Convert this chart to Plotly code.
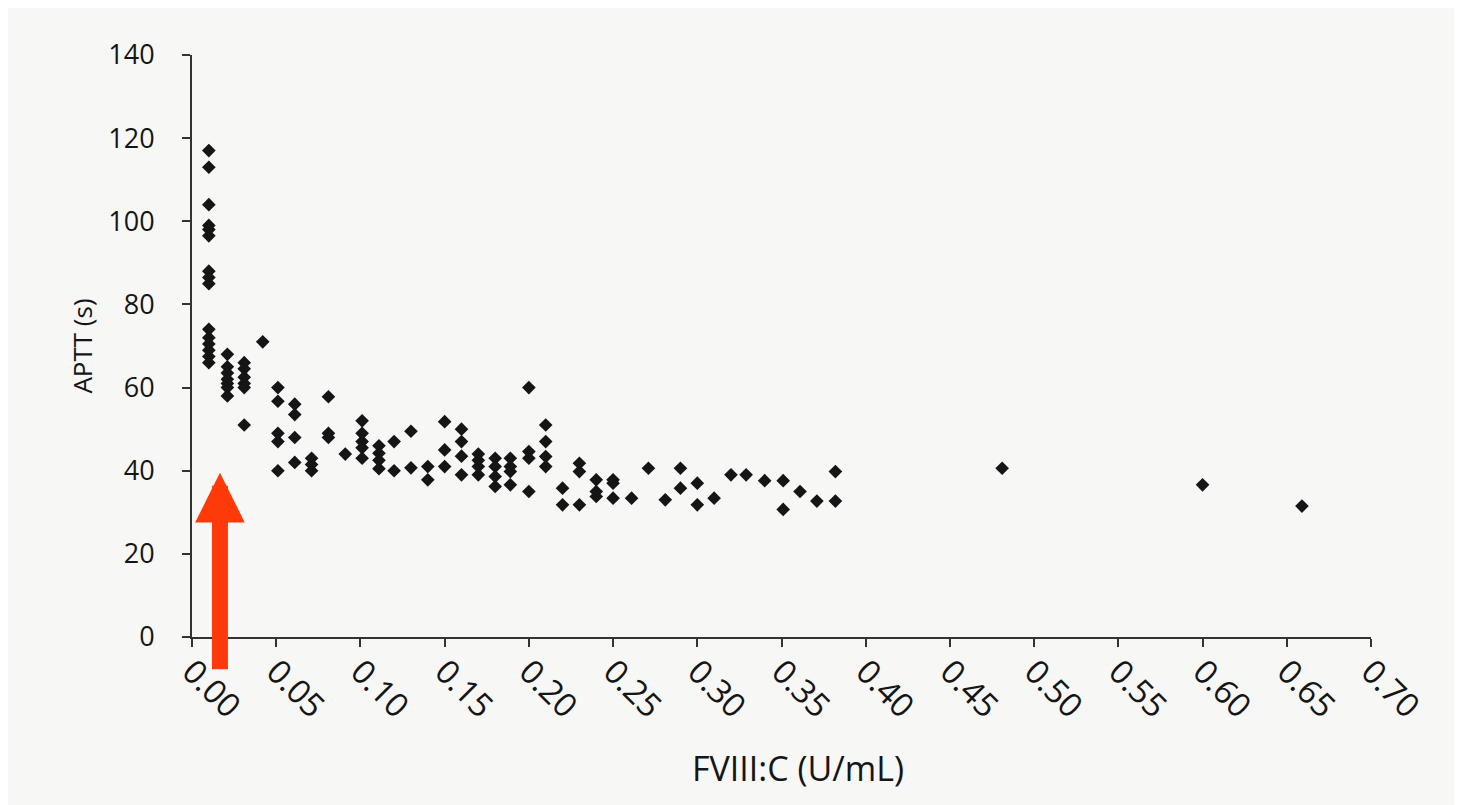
import plotly.graph_objects as go

# FVIII:C (U/mL) values, grouped by column, with APTT (s) values
fviii = (
    [0.010] * 15 + [0.021] * 7 + [0.031] * 6 + [0.042] * 1 + [0.051] * 5 +
    [0.061] * 4 + [0.071] * 3 + [0.081] * 3 + [0.091] * 1 + [0.101] * 5 +
    [0.111] * 4 + [0.120] * 2 + [0.130] * 2 + [0.140] * 2 + [0.150] * 3 +
    [0.160] * 4 + [0.170] * 4 + [0.180] * 4 + [0.189] * 4 + [0.200] * 4 +
    [0.210] * 4 + [0.220] * 2 + [0.230] * 3 + [0.240] * 3 + [0.250] * 3 +
    [0.261] * 1 + [0.271] * 1 + [0.281] * 1 + [0.290] * 2 + [0.300] * 2 +
    [0.310] * 1 + [0.320] * 1 + [0.329] * 1 + [0.340] * 1 + [0.351] * 2 +
    [0.361] * 1 + [0.371] * 1 + [0.382] * 2 + [0.481] * 1 + [0.600] * 1 +
    [0.659] * 1
)
aptt = [
    117, 113, 104, 99, 98, 96.5, 88, 86.5, 85, 74, 72, 70.5, 69, 67.5, 66,
    68, 65, 63.5, 62, 61, 60, 58,
    66, 64.5, 62.5, 61, 60, 51,
    71,
    60, 56.7, 49, 47, 40,
    56, 53.5, 48, 42,
    43, 41.5, 40,
    57.8, 49, 48,
    44,
    52, 49, 47, 45.5, 43,
    46, 44.2, 42.5, 40.5,
    47, 40,
    49.5, 40.7,
    41, 37.8,
    51.8, 45, 41,
    50, 47, 43.5, 39,
    44, 42.5, 41, 39,
    43, 41, 38.6, 36.2,
    43, 41, 39.8, 36.6,
    60, 44.6, 43, 35,
    51, 47, 43.4, 41,
    35.8, 31.8,
    41.8, 39.8, 31.8,
    37.8, 35, 33.8,
    37.8, 37, 33.4,
    33.4,
    40.6,
    33,
    40.6, 35.8,
    37, 31.8,
    33.4,
    39,
    39,
    37.6,
    37.6, 30.7,
    35,
    32.7,
    39.8, 32.7,
    40.6,
    36.6,
    31.5,
]

x_ticks = [0.00, 0.05, 0.10, 0.15, 0.20, 0.25, 0.30, 0.35, 0.40, 0.45, 0.50, 0.55, 0.60, 0.65, 0.70]
x_tick_labels = ["0.00", "0.05", "0.10", "0.15", "0.20", "0.25", "0.30", "0.35",
                 "0.40", "0.45", "0.50", "0.55", "0.60", "0.65", "0.70"]
y_ticks = [0, 20, 40, 60, 80, 100, 120, 140]

x_title = "FVIII:C (U/mL)"
y_title = "APTT (s)"

arrow_x = 0.0166
arrow_y = 39.5

FONT = "Open Sans"
INK = "#151515"
BG = "#f7f7f5"

fig = go.Figure()
fig.add_trace(go.Scatter(
    x=fviii, y=aptt, mode="markers",
    marker=dict(symbol="diamond", size=10.5, color=INK, line=dict(width=0)),
    showlegend=False, hoverinfo="x+y",
))

fig.add_annotation(
    x=arrow_x, y=arrow_y, xref="x", yref="y",
    ax=0, ay=198, axref="pixel", ayref="pixel",
    showarrow=True, arrowhead=2, arrowsize=0.62, arrowwidth=16,
    arrowcolor="#ff3a0a", text="",
)

# x-axis title placed slightly right of centre, as in the original
fig.add_annotation(
    x=0.514, y=-0.225, xref="paper", yref="paper",
    xanchor="center", yanchor="middle", showarrow=False,
    text=x_title, font=dict(size=34, family=FONT, color=INK),
)

fig.update_layout(
    width=1462, height=805,
    margin=dict(l=184, r=99, t=47, b=176),
    paper_bgcolor=BG, plot_bgcolor=BG,
    font=dict(family=FONT, color=INK),
    xaxis=dict(
        range=[0, 0.70], tickvals=x_ticks, ticktext=x_tick_labels,
        tickangle=45, ticks="outside", ticklen=8, tickwidth=2, tickcolor="#333",
        showline=True, linecolor="#333", linewidth=2, showgrid=False, zeroline=False,
        ticklabelstandoff=-8,
        tickfont=dict(size=33, family=FONT, color=INK),
    ),
    yaxis=dict(
        range=[0, 140], tickvals=y_ticks,
        ticks="outside", ticklen=8, tickwidth=2, tickcolor="#333",
        showline=True, linecolor="#333", linewidth=2, showgrid=False, zeroline=False,
        ticklabelstandoff=22,
        tickfont=dict(size=27, family=FONT, color=INK),
        title=dict(text=y_title, font=dict(size=26, family=FONT, color=INK), standoff=8),
    ),
)

fig.write_html("out.html")
